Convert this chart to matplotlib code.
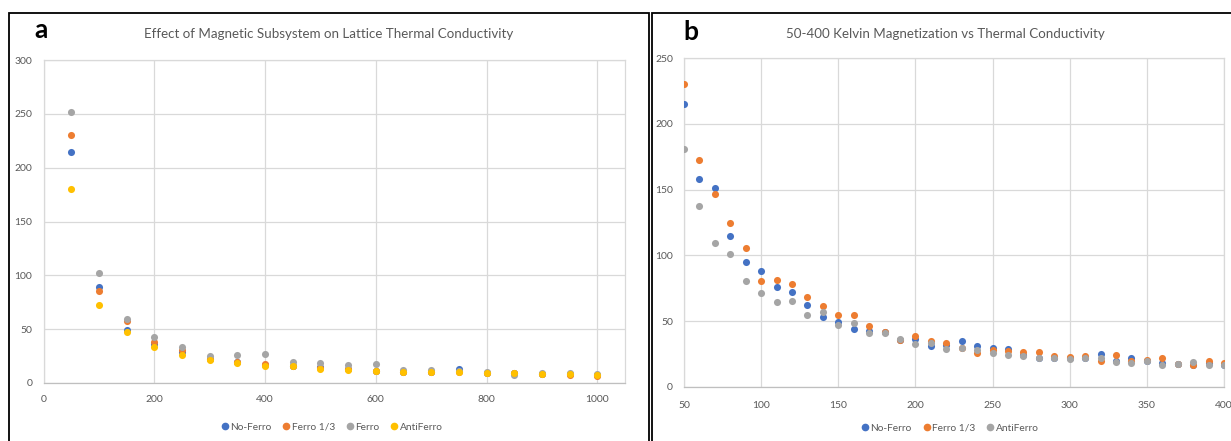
import matplotlib
matplotlib.use("Agg")
import matplotlib.pyplot as plt
from matplotlib.patches import Rectangle
from matplotlib.lines import Line2D

plt.rcParams['font.family'] = ['Lato', 'DejaVu Sans']

# panel a: 50..1000 K
temps_a = [50, 100, 150, 200, 250, 300, 350, 400, 450, 500,
           550, 600, 650, 700, 750, 800, 850, 900, 950, 1000]
no_ferro_a = [215, 89, 49.5, 36, 29, 22, 19.5, 17, 16, 14.5,
              13, 11.5, 10.2, 10.2, 13.3, 9.6, 9.0, 8.7, 8.0, 7.1]
ferro13_a = [230, 85, 58, 38, 30.6, 22, 19.5, 17.6, 16, 14,
             13, 10.8, 10.2, 10.2, 10.2, 9.6, 9.3, 8.7, 7.4, 6.8]
ferro_a = [252, 102.5, 59, 42.4, 33.4, 25, 25.7, 27.2, 19.2, 18.3,
           16.7, 17.3, 12.4, 12.4, 11.5, 10.2, 7.7, 9.6, 9.6, 8.0]
antiferro_a = [180.5, 72, 47.7, 33, 26, 21, 19, 16, 15.5, 13,
               12, 11.5, 10, 10, 10, 9.3, 9.3, 8.4, 8.7, 7.4]

# panel b: 50..400 K
temps_b = [50, 60, 70, 80, 90, 100, 110, 120, 130, 140, 150, 160,
           170, 180, 190, 200, 210, 220, 230, 240, 250, 260, 270, 280,
           290, 300, 310, 320, 330, 340, 350, 360, 370, 380, 390, 400]
no_ferro_b = [214.8, 157.7, 151.4, 115.1, 94.8, 88.5, 76.3, 72.3, 62.6, 53.2, 49.4, 44.1,
              42.3, 41.5, 35.8, 36.6, 31.3, 31.6, 34.6, 31.3, 29.5, 28.8, 24, 22,
              22, 22, 22, 25, 20, 21.7, 20, 18, 17.4, 17, 18, 17]
ferro13_b = [230.2, 172.7, 146.8, 125, 106, 80.6, 81.4, 78.1, 68.7, 61.6, 55, 55,
             46.7, 41.5, 36, 38.4, 34.8, 33.3, 30, 25.5, 28, 27, 26.5, 26.3,
             23.2, 22.7, 23.5, 20, 24, 20, 20.5, 21.7, 17.4, 16.4, 20, 18.2]
antiferro_b = [180.8, 137.7, 109.8, 100.7, 80.6, 71.5, 64.9, 65.7, 54.5, 57.3, 47.2, 48.7,
               40.8, 41.3, 36.8, 32.3, 33.8, 28.5, 29.3, 28.3, 25.8, 24.5, 23.7, 22.2,
               22, 21.2, 21.7, 21.7, 19.2, 18.4, 19.4, 16.7, 17.4, 18.7, 16.7, 16.4]

BLUE = "#4472C4"
ORANGE = "#ED7D31"
GRAY = "#A5A5A5"
YELLOW = "#FFC000"
TXT = "#595959"
GRID = "#D9D9D9"

W, H = 1231, 441
fig = plt.figure(figsize=(W / 100, H / 100), dpi=100)


def px_axes(l, t, r, b):
    return fig.add_axes([l / W, 1 - b / H, (r - l) / W, (b - t) / H])


def style(ax):
    ax.grid(True, color=GRID, lw=0.9)
    ax.set_axisbelow(True)
    for s in ax.spines.values():
        s.set_color(GRID)
        s.set_linewidth(0.9)
    ax.spines['bottom'].set_color("#BFBFBF")
    ax.tick_params(length=0, colors=TXT, labelsize=7.5)
    ax.tick_params(axis='x', pad=9)
    ax.tick_params(axis='y', pad=8)


# frames around the two panels
fig.patches.append(Rectangle((8.5 / W, -0.05), (649 - 8.5) / W, 1.05 - 12.5 / H,
                             transform=fig.transFigure, fill=False,
                             edgecolor="black", lw=1.3))
fig.patches.append(Rectangle((651.5 / W, -0.05), 0.5, 1.05 - 13 / H,
                             transform=fig.transFigure, fill=False,
                             edgecolor="black", lw=1.3))

# ---- panel a
ax1 = px_axes(43.5, 60, 625, 383)
style(ax1)
ms = 26
ax1.scatter(temps_a, no_ferro_a, s=ms, color=BLUE, lw=0, zorder=3)
ax1.scatter(temps_a, ferro13_a, s=ms, color=ORANGE, lw=0, zorder=3)
ax1.scatter(temps_a, ferro_a, s=ms, color=GRAY, lw=0, zorder=3)
ax1.scatter(temps_a, antiferro_a, s=ms, color=YELLOW, lw=0, zorder=3)
ax1.set_xlim(0, 1050)
ax1.set_ylim(0, 300)
ax1.set_xticks(range(0, 1001, 200))
ax1.set_yticks(range(0, 301, 50))

fig.text(329 / W, 1 - 34 / H, "Effect of Magnetic Subsystem on Lattice Thermal Conductivity",
         ha="center", va="center", fontsize=9.6, color=TXT)
fig.text(41 / W, 1 - 30 / H, "a", ha="center", va="center", fontsize=19,
         fontweight="bold", color="black")

def handle(c):
    return Line2D([], [], marker="o", ls="", color=c, markersize=4.5, mec=c)

fig.legend([handle(BLUE), handle(ORANGE), handle(GRAY), handle(YELLOW)],
           ["No-Ferro", "Ferro 1/3", "Ferro", "AntiFerro"],
           loc="center", bbox_to_anchor=(331 / W, 1 - 427 / H), ncol=4,
           frameon=False, fontsize=7.3, labelcolor=TXT, handletextpad=0.0,
           columnspacing=0.9, handlelength=1.1)

# ---- panel b
ax2 = px_axes(684, 58, 1224, 387)
style(ax2)
ax2.scatter(temps_b, no_ferro_b, s=ms, color=BLUE, lw=0, zorder=3)
ax2.scatter(temps_b, ferro13_b, s=ms, color=ORANGE, lw=0, zorder=3)
ax2.scatter(temps_b, antiferro_b, s=ms, color=GRAY, lw=0, zorder=3)
ax2.set_xlim(50, 400)
ax2.set_ylim(0, 250)
ax2.set_xticks(range(50, 401, 50))
ax2.set_yticks(range(0, 251, 50))
ax2.tick_params(axis='x', pad=10)
ax2.tick_params(axis='y', pad=8)

fig.text(945 / W, 1 - 34 / H, "50-400 Kelvin Magnetization vs Thermal Conductivity",
         ha="center", va="center", fontsize=9.6, color=TXT)
fig.text(691 / W, 1 - 32 / H, "b", ha="center", va="center", fontsize=19,
         fontweight="bold", color="black")

fig.legend([handle(BLUE), handle(ORANGE), handle(GRAY)],
           ["No-Ferro", "Ferro 1/3", "AntiFerro"],
           loc="center", bbox_to_anchor=(949 / W, 1 - 428 / H), ncol=3,
           frameon=False, fontsize=7.3, labelcolor=TXT, handletextpad=0.0,
           columnspacing=0.9, handlelength=1.1)

fig.savefig("out.png", dpi=100)
